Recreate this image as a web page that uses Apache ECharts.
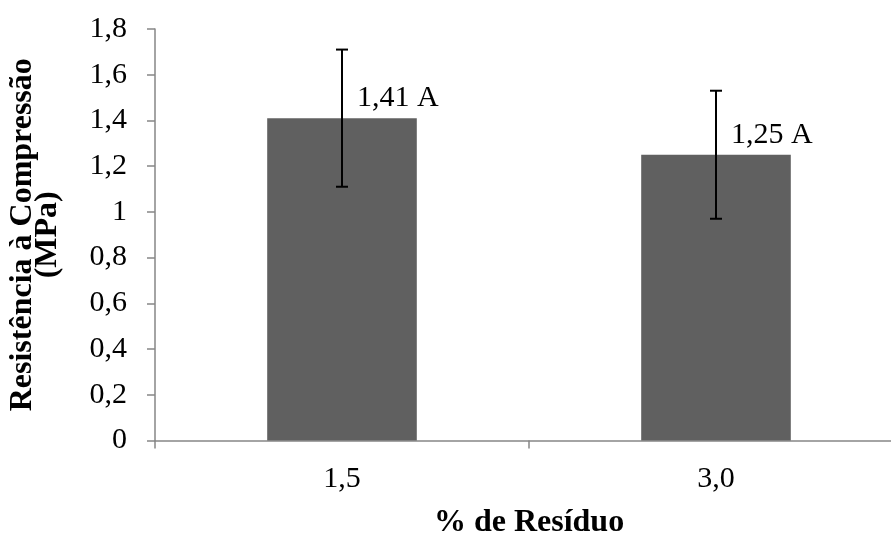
<!DOCTYPE html>
<html>
<head>
<meta charset="utf-8">
<script src="https://cdn.jsdelivr.net/npm/echarts@6/dist/echarts.min.js"></script>
<style>html,body{margin:0;padding:0;background:#fff}#c{width:891px;height:536px}</style>
</head>
<body>
<div id="c"></div>
<script>
var categories = ['1,5', '3,0'];
var values = [1.41, 1.25];
var errors = [0.30, 0.28];
var labels = ['1,41 A', '1,25 A'];
var yTicks = {min: 0, max: 1.8, interval: 0.2};

var FONT = '"Liberation Serif", "Times New Roman", serif';
var chart = echarts.init(document.getElementById('c'), null, {renderer: 'canvas'});

var errData = categories.map(function (c, i) { return [i, values[i] - errors[i], values[i] + errors[i], values[i], labels[i]]; });

chart.setOption({
  animation: false,
  grid: {left: 155, top: 29, bottom: 95.5, width: 748, containLabel: false, outerBoundsMode: 'none'},
  xAxis: {
    type: 'category',
    data: categories,
    axisLine: {lineStyle: {color: '#868686', width: 1.5}},
    axisTick: {show: true, length: 8, lineStyle: {color: '#868686', width: 1.5}},
    axisLabel: {fontFamily: FONT, fontSize: 30, color: '#000', margin: 24},
    name: '% de Resíduo',
    nameLocation: 'middle',
    nameGap: 66,
    nameTextStyle: {fontFamily: FONT, fontSize: 32, fontWeight: 'bold', color: '#000'}
  },
  yAxis: {
    type: 'value',
    min: yTicks.min, max: yTicks.max, interval: yTicks.interval,
    splitLine: {show: false},
    axisLine: {show: true, lineStyle: {color: '#868686', width: 1.5}},
    axisTick: {show: true, length: 8, lineStyle: {color: '#868686', width: 1.5}},
    axisLabel: {
      fontFamily: FONT, fontSize: 30, color: '#000', margin: 28,
      formatter: function (v) { return String(Math.round(v * 10) / 10).replace('.', ','); }
    },
    name: 'Resistência à Compressão\n(MPa)',
    nameLocation: 'middle',
    nameGap: 95,
    nameTextStyle: {fontFamily: FONT, fontSize: 32, fontWeight: 'bold', color: '#000', lineHeight: 25}
  },
  series: [
    {
      type: 'bar',
      data: values,
      barWidth: '40%',
      itemStyle: {color: '#606060'},
      z: 2
    },
    {
      type: 'custom',
      data: errData,
      z: 5,
      renderItem: function (params, api) {
        var lo = api.coord([api.value(0), api.value(1)]);
        var hi = api.coord([api.value(0), api.value(2)]);
        var top = api.coord([api.value(0), api.value(3)]);
        var x = lo[0];
        var st = {stroke: '#000', lineWidth: 2};
        return {
          type: 'group',
          children: [
            {type: 'line', shape: {x1: x, y1: lo[1], x2: x, y2: hi[1]}, style: st},
            {type: 'line', shape: {x1: x - 6, y1: lo[1], x2: x + 6, y2: lo[1]}, style: st},
            {type: 'line', shape: {x1: x - 6, y1: hi[1], x2: x + 6, y2: hi[1]}, style: st},
            {type: 'text', x: x + 15, y: top[1] - 5, style: {text: api.value(4), fill: '#000', font: '30px ' + FONT, textAlign: 'left', textVerticalAlign: 'bottom'}}
          ]
        };
      }
    }
  ]
});
</script>
</body>
</html>
